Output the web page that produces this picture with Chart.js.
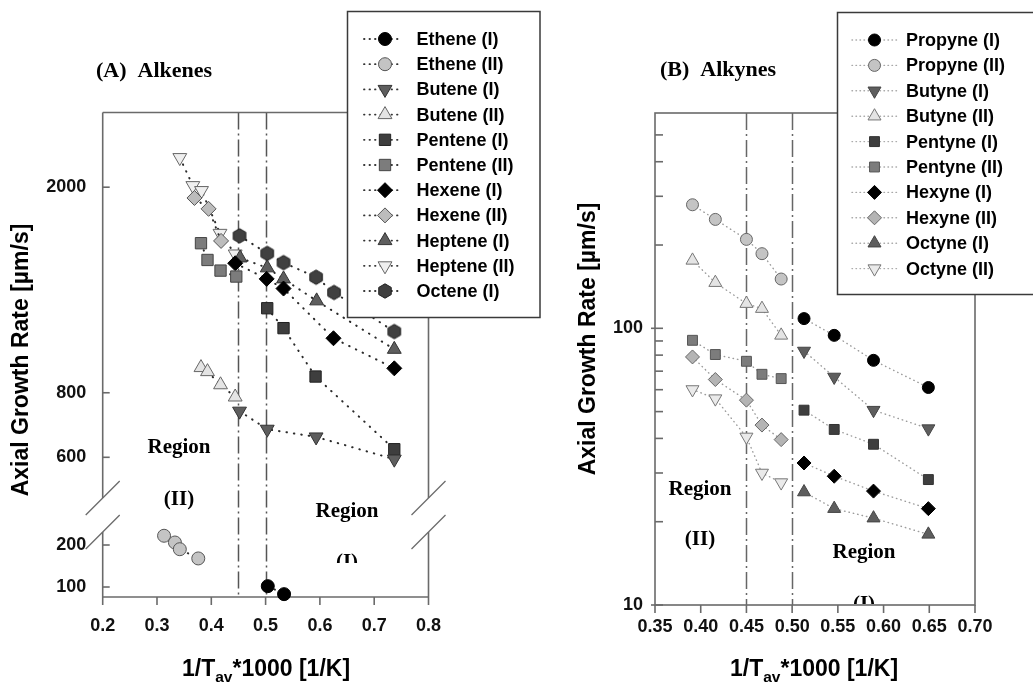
<!DOCTYPE html>
<html><head><meta charset="utf-8">
<script src="https://cdn.jsdelivr.net/npm/chart.js@4.4.1/dist/chart.umd.min.js"></script>
<style>
html,body{margin:0;padding:0;background:#fff;}
#wrap{position:relative;width:1033px;height:683px;overflow:hidden;background:#fff;}
canvas{position:absolute;left:0;top:0;}
</style></head><body>
<div id="wrap"><canvas id="cA" width="1033" height="683"></canvas><canvas id="cB" width="1033" height="683"></canvas></div>
<script>
// ================= DATA =================
const REGION_BOUNDS = [0.45, 0.50];

// ---- Panel A: Alkenes ----
const ALKENE_NAMES = ['Ethene (I)','Ethene (II)','Butene (I)','Butene (II)','Pentene (I)','Pentene (II)','Hexene (I)','Hexene (II)','Heptene (I)','Heptene (II)','Octene (I)'];
const ETHENE_I_X   = [0.504, 0.534];
const ETHENE_I_Y   = [102, 83];
const ETHENE_II_X  = [0.313, 0.333, 0.342, 0.376];
const ETHENE_II_Y  = [222, 206, 190, 168];
const BUTENE_I_X   = [0.452, 0.503, 0.593, 0.737];
const BUTENE_I_Y   = [737, 680, 657, 595];
const BUTENE_II_X  = [0.381, 0.393, 0.417, 0.444];
const BUTENE_II_Y  = [895, 879, 829, 785];
const PENTENE_I_X  = [0.503, 0.533, 0.592, 0.737];
const PENTENE_I_Y  = [1166, 1067, 860, 622];
const PENTENE_II_X = [0.381, 0.393, 0.417, 0.446];
const PENTENE_II_Y = [1558, 1446, 1379, 1343];
const HEXENE_I_X   = [0.444, 0.502, 0.533, 0.625, 0.737];
const HEXENE_I_Y   = [1425, 1329, 1273, 1020, 892];
const HEXENE_II_X  = [0.369, 0.395, 0.418];
const HEXENE_II_Y  = [1906, 1816, 1574];
const HEPTENE_I_X  = [0.453, 0.503, 0.533, 0.594, 0.737];
const HEPTENE_I_Y  = [1459, 1396, 1329, 1205, 971];
const HEPTENE_II_X = [0.342, 0.366, 0.382, 0.416, 0.444];
const HEPTENE_II_Y = [2282, 2014, 1970, 1628, 1485];
const OCTENE_I_X   = [0.452, 0.503, 0.533, 0.593, 0.626, 0.737];
const OCTENE_I_Y   = [1610, 1489, 1429, 1339, 1251, 1051];

const ALKENE_X_TICKS     = [0.2, 0.3, 0.4, 0.5, 0.6, 0.7, 0.8];
const ALKENE_UPPER_TICKS = [600, 800, 2000];
const ALKENE_LOWER_TICKS = [100, 200];

// ---- Panel B: Alkynes ----
const ALKYNE_NAMES = ['Propyne (I)','Propyne (II)','Butyne (I)','Butyne (II)','Pentyne (I)','Pentyne (II)','Hexyne (I)','Hexyne (II)','Octyne (I)','Octyne (II)'];
const ALKYNE_I_X   = [0.513, 0.546, 0.589, 0.649];
const ALKYNE_II_X  = [0.391, 0.416, 0.450, 0.467, 0.488];
const PROPYNE_I_Y  = [108.4, 94.3, 76.6, 61.1];
const PROPYNE_II_Y = [279.6, 247.5, 209.6, 186.1, 150.7];
const BUTYNE_I_Y   = [82.8, 66.7, 50.6, 43.4];
const BUTYNE_II_Y  = [176, 146.2, 122.8, 117.8, 94.3];
const PENTYNE_I_Y  = [50.6, 43.1, 38.1, 28.4];
const PENTYNE_II_Y = [90.5, 80.4, 76.0, 68.2, 65.8];
const HEXYNE_I_Y   = [32.6, 29.2, 25.8, 22.3];
const HEXYNE_II_Y  = [78.8, 65.3, 55.0, 44.7, 39.6];
const OCTYNE_I_Y   = [25.6, 22.3, 20.6, 18.0];
const OCTYNE_II_Y  = [60.1, 55.7, 40.5, 30.0, 27.7];

const ALKYNE_X_TICKS = [0.35, 0.40, 0.45, 0.50, 0.55, 0.60, 0.65, 0.70];
const ALKYNE_Y_TICKS = [10, 20, 30, 40, 50, 60, 70, 80, 90, 100, 200, 300, 400, 500];
const ALKYNE_Y_LABELS = [10, 100];

// ================= STYLE =================
const SANS = '"Liberation Sans", Arial, sans-serif';
const SERIF = '"Liberation Serif", "Times New Roman", serif';
const AXIS_GRAY = '#6a6a6a';

function hexImage(r, fill, stroke) {
  const s = Math.ceil(2 * r + 3);
  const c = document.createElement('canvas');
  c.width = s; c.height = s;
  const g = c.getContext('2d');
  g.beginPath();
  for (let k = 0; k < 6; k++) {
    const a = -Math.PI / 2 + k * Math.PI / 3;
    const px = s / 2 + r * Math.cos(a), py = s / 2 + r * Math.sin(a);
    if (k === 0) g.moveTo(px, py); else g.lineTo(px, py);
  }
  g.closePath();
  g.fillStyle = fill; g.fill();
  g.lineWidth = 1; g.strokeStyle = stroke; g.stroke();
  return c;
}

const MARKS_A = [
  {style: 'circle',   r: 6.5, bg: '#000000', bd: '#000000'},
  {style: 'circle',   r: 6.5, bg: '#c4c4c4', bd: '#555555'},
  {style: 'triangle', r: 8, rot: 180, bg: '#5e5e5e', bd: '#333333'},
  {style: 'triangle', r: 8, bg: '#e4e4e4', bd: '#666666'},
  {style: 'rect',     r: 8, bg: '#3e3e3e', bd: '#222222'},
  {style: 'rect',     r: 8, bg: '#7c7c7c', bd: '#444444'},
  {style: 'rectRot',  r: 7.5, bg: '#000000', bd: '#000000'},
  {style: 'rectRot',  r: 7.5, bg: '#bcbcbc', bd: '#555555'},
  {style: 'triangle', r: 8, bg: '#5e5e5e', bd: '#333333'},
  {style: 'triangle', r: 8, rot: 180, bg: '#efefef', bd: '#666666'},
  {style: hexImage(7.2, '#404040', '#1e1e1e'), r: 7, bg: '#404040', bd: '#1e1e1e'}
];
const MARKS_B = [
  {style: 'circle',   r: 6, bg: '#000000', bd: '#000000'},
  {style: 'circle',   r: 6, bg: '#c4c4c4', bd: '#666666'},
  {style: 'triangle', r: 7.5, rot: 180, bg: '#5e5e5e', bd: '#444444'},
  {style: 'triangle', r: 7.5, bg: '#e4e4e4', bd: '#777777'},
  {style: 'rect',     r: 7, bg: '#3e3e3e', bd: '#333333'},
  {style: 'rect',     r: 7, bg: '#7c7c7c', bd: '#555555'},
  {style: 'rectRot',  r: 7, bg: '#000000', bd: '#000000'},
  {style: 'rectRot',  r: 7, bg: '#b4b4b4', bd: '#666666'},
  {style: 'triangle', r: 7.5, bg: '#5e5e5e', bd: '#444444'},
  {style: 'triangle', r: 7.5, rot: 180, bg: '#eaeaea', bd: '#777777'}
];

function makeDatasets(names, xs, ys, marks, axes, line) {
  return names.map((name, i) => ({
    label: name,
    data: xs[i].map((x, k) => ({x: x, y: ys[i][k]})),
    yAxisID: axes[i],
    showLine: true,
    borderColor: line.color,
    borderWidth: line.width,
    borderDash: line.dash,
    borderCapStyle: 'round',
    pointStyle: marks[i].style,
    pointRotation: marks[i].rot || 0,
    pointRadius: marks[i].r,
    pointBackgroundColor: marks[i].bg,
    pointBorderColor: marks[i].bd,
    pointBorderWidth: 1,
    clip: false,
    tension: 0
  }));
}

function drawMarker(ctx, ds, x, y) {
  ctx.save();
  ctx.fillStyle = ds.pointBackgroundColor;
  ctx.strokeStyle = ds.pointBorderColor;
  ctx.lineWidth = ds.pointBorderWidth;
  Chart.helpers.drawPoint(ctx, {pointStyle: ds.pointStyle, rotation: ds.pointRotation || 0, radius: ds.pointRadius, borderWidth: ds.pointBorderWidth}, x, y);
  ctx.restore();
}

function drawLegend(chart, L) {
  const ctx = chart.ctx;
  ctx.save();
  ctx.fillStyle = '#ffffff';
  ctx.fillRect(L.x, L.y, L.w, L.h);
  ctx.strokeStyle = '#3a3a3a'; ctx.lineWidth = 1.5;
  ctx.strokeRect(L.x, L.y, L.w, L.h);
  chart.data.datasets.forEach((ds, i) => {
    const y = L.y0 + i * L.dy;
    ctx.save();
    ctx.setLineDash(L.dash); ctx.lineCap = 'round';
    ctx.strokeStyle = L.lineColor; ctx.lineWidth = L.lineWidth;
    ctx.beginPath(); ctx.moveTo(L.lx0, y); ctx.lineTo(L.lx1, y); ctx.stroke();
    ctx.restore();
    drawMarker(ctx, ds, L.mx, y);
    ctx.fillStyle = '#000'; ctx.font = 'bold 18px ' + SANS;
    ctx.textAlign = 'left'; ctx.textBaseline = 'middle';
    ctx.fillText(ds.label, L.tx, y + 1);
  });
  ctx.restore();
}

function drawTitleText(ctx, text, x, y) {
  ctx.save();
  ctx.fillStyle = '#000'; ctx.font = 'bold 22px ' + SERIF;
  ctx.textAlign = 'left'; ctx.textBaseline = 'middle';
  ctx.fillText(text, x, y);
  ctx.restore();
}

function drawXTitle(ctx, cx, baseline) {
  const parts = [['1/T', 23, 0], ['av', 15.5, 6], ['*1000 [1/K]', 23, 0]];
  ctx.save();
  ctx.fillStyle = '#000'; ctx.textBaseline = 'alphabetic'; ctx.textAlign = 'left';
  let total = 0;
  parts.forEach(p => { ctx.font = 'bold ' + p[1] + 'px ' + SANS; total += ctx.measureText(p[0]).width; });
  let x = cx - total / 2;
  parts.forEach(p => { ctx.font = 'bold ' + p[1] + 'px ' + SANS; ctx.fillText(p[0], x, baseline + p[2]); x += ctx.measureText(p[0]).width; });
  ctx.restore();
}

function drawYTitle(ctx, x, y) {
  ctx.save();
  ctx.translate(x, y); ctx.rotate(-Math.PI / 2);
  ctx.fillStyle = '#000'; ctx.font = 'bold 23px ' + SANS;
  ctx.textAlign = 'center'; ctx.textBaseline = 'middle';
  ctx.fillText('Axial Growth Rate [\u00b5m/s]', 0, 0);
  ctx.restore();
}

function drawRegionText(ctx, text, x, y, clipBottom) {
  ctx.save();
  if (clipBottom !== undefined) { ctx.beginPath(); ctx.rect(0, 0, 1033, clipBottom); ctx.clip(); }
  ctx.fillStyle = '#000'; ctx.font = 'bold 21px ' + SERIF;
  ctx.textAlign = 'center'; ctx.textBaseline = 'middle';
  ctx.fillText(text, x, y);
  ctx.restore();
}

function drawRegionLines(chart, xScale, color) {
  const ctx = chart.ctx, a = chart.chartArea;
  ctx.save();
  ctx.strokeStyle = color; ctx.lineWidth = 1.5;
  ctx.setLineDash([17, 4, 2, 4]);
  REGION_BOUNDS.forEach(v => {
    const px = Math.round(xScale.getPixelForValue(v)) + 0.5;
    ctx.beginPath(); ctx.moveTo(px, a.top); ctx.lineTo(px, a.bottom); ctx.stroke();
  });
  ctx.restore();
}

function lineSeg(ctx, x0, y0, x1, y1) { ctx.beginPath(); ctx.moveTo(x0, y0); ctx.lineTo(x1, y1); ctx.stroke(); }

const baseTickFont = {family: SANS, weight: 'bold', size: 18};

// ================= CHART A =================
const plotA = {
  id: 'plotA',
  beforeDatasetsDraw(chart) {
    const ctx = chart.ctx, a = chart.chartArea;
    const yU = chart.scales.yU;
    const gapTop = yU.bottom + 1, gapBot = yU.bottom + 35;
    drawRegionLines(chart, chart.scales.x, '#555555');
    ctx.save();
    ctx.strokeStyle = AXIS_GRAY; ctx.lineWidth = 1.6;
    lineSeg(ctx, a.left, a.top, a.right, a.top);
    lineSeg(ctx, a.left, a.bottom, a.right, a.bottom);
    [a.left, a.right].forEach(x => {
      lineSeg(ctx, x, a.top, x, gapTop);
      lineSeg(ctx, x, gapBot, x, a.bottom);
      ctx.lineWidth = 1.3;
      lineSeg(ctx, x - 17, gapTop + 17, x + 17, gapTop - 17);
      lineSeg(ctx, x - 17, gapBot + 17, x + 17, gapBot - 17);
      ctx.lineWidth = 1.6;
    });
    chart.scales.x.ticks.forEach(t => {
      const px = chart.scales.x.getPixelForValue(t.value);
      lineSeg(ctx, px, a.bottom, px, a.bottom + 8);
    });
    ['yU', 'yL'].forEach(id => {
      const s = chart.scales[id];
      s.ticks.forEach(t => {
        const py = s.getPixelForValue(t.value);
        lineSeg(ctx, a.left, py, a.left + 7, py);
      });
    });
    ctx.restore();
  },
  afterDraw(chart) {
    const ctx = chart.ctx;
    drawTitleText(ctx, '(A)  Alkenes', 96, 71);
    drawRegionText(ctx, 'Region', 179, 448);
    drawRegionText(ctx, '(II)', 179, 500);
    drawRegionText(ctx, 'Region', 347, 512);
    drawRegionText(ctx, '(I)', 347, 563, 563);
    drawXTitle(ctx, 266, 676);
    drawYTitle(ctx, 22, 360);
    drawLegend(chart, {x: 347.5, y: 11.5, w: 192.5, h: 306, y0: 39, dy: 25.2,
      lx0: 364, lx1: 402, mx: 385, tx: 416.5, dash: [0.5, 5], lineColor: '#333', lineWidth: 1.8});
  }
};

new Chart(document.getElementById('cA'), {
  type: 'scatter',
  data: {
    datasets: makeDatasets(
      ALKENE_NAMES,
      [ETHENE_I_X, ETHENE_II_X, BUTENE_I_X, BUTENE_II_X, PENTENE_I_X, PENTENE_II_X, HEXENE_I_X, HEXENE_II_X, HEPTENE_I_X, HEPTENE_II_X, OCTENE_I_X],
      [ETHENE_I_Y, ETHENE_II_Y, BUTENE_I_Y, BUTENE_II_Y, PENTENE_I_Y, PENTENE_II_Y, HEXENE_I_Y, HEXENE_II_Y, HEPTENE_I_Y, HEPTENE_II_Y, OCTENE_I_Y],
      MARKS_A,
      ['yL', 'yL', 'yU', 'yU', 'yU', 'yU', 'yU', 'yU', 'yU', 'yU', 'yU'],
      {color: '#2a2a2a', width: 2, dash: [0.5, 7]}
    )
  },
  options: {
    responsive: false, animation: false, devicePixelRatio: 1, events: [],
    layout: {autoPadding: false, padding: {left: 0, top: 112.5, right: 1033 - 428.5, bottom: 0}},
    plugins: {legend: {display: false}, tooltip: {enabled: false}, title: {display: false}},
    scales: {
      x: {
        type: 'linear', position: 'bottom', min: 0.2, max: 0.8, bounds: 'data',
        afterBuildTicks: s => { s.ticks = ALKENE_X_TICKS.map(v => ({value: v})); },
        afterFit: s => { s.height = 683 - 597; },
        grid: {display: false, drawTicks: false}, border: {display: false},
        ticks: {padding: 18, font: baseTickFont, color: '#111', autoSkip: false, maxRotation: 0, callback: v => Number(v).toFixed(1)}
      },
      yU: {
        type: 'logarithmic', position: 'left', stack: 'alk', stackWeight: 597 - 112.5 - 100, weight: 2,
        min: 502.7, max: 2790, bounds: 'data',
        afterBuildTicks: s => { s.ticks = ALKENE_UPPER_TICKS.map(v => ({value: v})); },
        afterFit: s => { s.width = 102.7; },
        grid: {display: false, drawTicks: false}, border: {display: false},
        ticks: {padding: 16.5, font: baseTickFont, color: '#111', autoSkip: false, callback: v => String(v)}
      },
      yL: {
        type: 'linear', position: 'left', stack: 'alk', stackWeight: 100, weight: 1,
        min: 76.2, max: 314.3, bounds: 'data',
        afterBuildTicks: s => { s.ticks = ALKENE_LOWER_TICKS.map(v => ({value: v})); },
        afterFit: s => { s.width = 102.7; },
        grid: {display: false, drawTicks: false}, border: {display: false},
        ticks: {padding: 16.5, font: baseTickFont, color: '#111', autoSkip: false, callback: v => String(v)}
      }
    }
  },
  plugins: [plotA]
});

// ================= CHART B =================
const plotB = {
  id: 'plotB',
  beforeDatasetsDraw(chart) {
    const ctx = chart.ctx, a = chart.chartArea;
    drawRegionLines(chart, chart.scales.x, '#666666');
    ctx.save();
    ctx.strokeStyle = AXIS_GRAY; ctx.lineWidth = 1.6;
    ctx.strokeRect(a.left, a.top, a.right - a.left, a.bottom - a.top);
    chart.scales.x.ticks.forEach(t => {
      const px = chart.scales.x.getPixelForValue(t.value);
      lineSeg(ctx, px, a.bottom, px, a.bottom + 8);
    });
    const y = chart.scales.y;
    y.ticks.forEach(t => {
      const py = y.getPixelForValue(t.value);
      const major = ALKYNE_Y_LABELS.includes(t.value);
      lineSeg(ctx, a.left - (major ? 4 : 0), py, a.left + 8, py);
    });
    ctx.restore();
  },
  afterDraw(chart) {
    const ctx = chart.ctx;
    drawTitleText(ctx, '(B)  Alkynes', 660, 70);
    drawRegionText(ctx, 'Region', 700, 490);
    drawRegionText(ctx, '(II)', 700, 540);
    drawRegionText(ctx, 'Region', 864, 553);
    drawRegionText(ctx, '(I)', 864, 605, 604);
    drawXTitle(ctx, 814, 676);
    drawYTitle(ctx, 589, 339);
    drawLegend(chart, {x: 837.5, y: 12.5, w: 210, h: 282, y0: 40, dy: 25.4,
      lx0: 852, lx1: 897, mx: 874.5, tx: 906, dash: [0.5, 3.5], lineColor: '#a8a8a8', lineWidth: 1.4});
  }
};

new Chart(document.getElementById('cB'), {
  type: 'scatter',
  data: {
    datasets: makeDatasets(
      ALKYNE_NAMES,
      [ALKYNE_I_X, ALKYNE_II_X, ALKYNE_I_X, ALKYNE_II_X, ALKYNE_I_X, ALKYNE_II_X, ALKYNE_I_X, ALKYNE_II_X, ALKYNE_I_X, ALKYNE_II_X],
      [PROPYNE_I_Y, PROPYNE_II_Y, BUTYNE_I_Y, BUTYNE_II_Y, PENTYNE_I_Y, PENTYNE_II_Y, HEXYNE_I_Y, HEXYNE_II_Y, OCTYNE_I_Y, OCTYNE_II_Y],
      MARKS_B,
      ['y', 'y', 'y', 'y', 'y', 'y', 'y', 'y', 'y', 'y'],
      {color: '#9c9c9c', width: 1.4, dash: [0.5, 4]}
    )
  },
  options: {
    responsive: false, animation: false, devicePixelRatio: 1, events: [],
    layout: {autoPadding: false, padding: {left: 0, top: 113, right: 1033 - 975, bottom: 0}},
    plugins: {legend: {display: false}, tooltip: {enabled: false}, title: {display: false}},
    scales: {
      x: {
        type: 'linear', position: 'bottom', min: 0.35, max: 0.70, bounds: 'data',
        afterBuildTicks: s => { s.ticks = ALKYNE_X_TICKS.map(v => ({value: v})); },
        afterFit: s => { s.height = 683 - 605; },
        grid: {display: false, drawTicks: false}, border: {display: false},
        ticks: {padding: 11, font: baseTickFont, color: '#111', autoSkip: false, maxRotation: 0, callback: v => Number(v).toFixed(2)}
      },
      y: {
        type: 'logarithmic', position: 'left', min: 10, max: 600, bounds: 'data',
        afterBuildTicks: s => { s.ticks = ALKYNE_Y_TICKS.map(v => ({value: v})); },
        afterFit: s => { s.width = 655; },
        grid: {display: false, drawTicks: false}, border: {display: false},
        ticks: {padding: 12, font: baseTickFont, color: '#111', autoSkip: false,
          callback: v => ALKYNE_Y_LABELS.includes(v) ? String(v) : ''}
      }
    }
  },
  plugins: [plotB]
});
</script>
</body></html>
